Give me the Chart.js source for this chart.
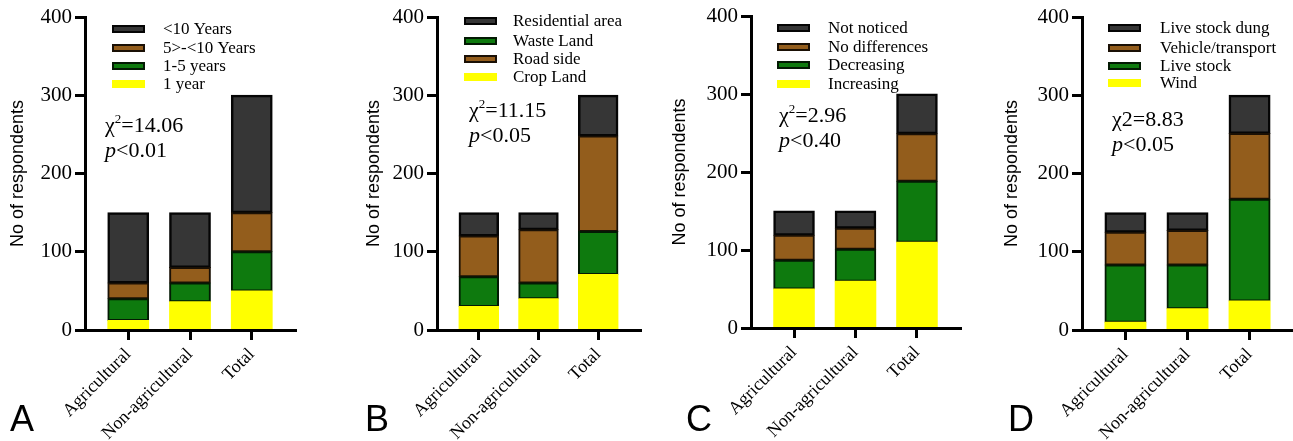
<!DOCTYPE html>
<html><head><meta charset="utf-8">
<script src="https://cdn.jsdelivr.net/npm/chart.js@4.4.0/dist/chart.umd.min.js"></script>
<style>
html,body{margin:0;padding:0;background:#fff;}
#wrap{position:relative;width:1293px;height:441px;overflow:hidden;background:#fff;}
canvas{position:absolute;top:0;}
</style></head><body>
<div id="wrap">
<canvas id="cA" width="323" height="441" style="left:0px"></canvas>
<canvas id="cB" width="323" height="441" style="left:323px"></canvas>
<canvas id="cC" width="323" height="441" style="left:646px"></canvas>
<canvas id="cD" width="324" height="441" style="left:969px"></canvas>
</div>
<script>
// ---------- DATA ----------
const categories = ['Agricultural', 'Non-agricultural', 'Total'];
const yTickValues = [0, 100, 200, 300, 400];

// Panel A (stack bottom-up)
const aSeriesNames = ['1 year', '1-5 years', '5>-<10 Years', '<10 Years'];
const aOneYear   = [12, 36, 50];
const aOneToFive = [28, 24, 50];
const aFiveToTen = [20, 20, 50];
const aOverTen   = [90, 70, 150];

// Panel B
const bSeriesNames = ['Crop Land', 'Waste Land', 'Road side', 'Residential area'];
const bCropLand    = [30, 40, 71];
const bWasteLand   = [38, 20, 55];
const bRoadSide    = [52, 68, 122];
const bResidential = [30, 22, 52];

// Panel C
const cSeriesNames = ['Increasing', 'Decreasing', 'No differences', 'Not noticed'];
const cIncreasing  = [50, 60, 110];
const cDecreasing  = [37, 41, 78];
const cNoDiff      = [32, 27, 61];
const cNotNoticed  = [31, 22, 51];

// Panel D
const dSeriesNames = ['Wind', 'Live stock', 'Vehicle/transport', 'Live stock dung'];
const dWind        = [10, 27, 37];
const dLiveStock   = [73, 56, 130];
const dVehicle     = [42, 44, 84];
const dDung        = [25, 23, 49];

// Statistics annotations
const panelLetters = ['A', 'B', 'C', 'D'];
const chiValues = ['14.06', '11.15', '2.96', '8.83'];
const pValues   = ['<0.01', '<0.05', '<0.40', '<0.05'];

// ---------- STYLE ----------
const SERIF = '"Liberation Serif", "Times New Roman", serif';
const SANS  = '"Liberation Sans", Arial, sans-serif';
const palette = [
  {bg: '#ffff00', border: '#ffff00', bw: 0},   // yellow
  {bg: '#0e7a0e', border: '#031a03', bw: 2},   // green
  {bg: '#935d1c', border: '#1a1005', bw: 2},   // brown
  {bg: '#363636', border: '#050505', bw: 2.5}  // black
];

const panels = [
  {id: 'cA', w: 323, padL: 1,  left: 85,  right: 295, top: 17, bottom: 330,
   names: aSeriesNames, series: [aOneYear, aOneToFive, aFiveToTen, aOverTen],
   colorIdx: [0, 1, 2, 3], legendOrder: [3, 2, 1, 0],
   legend: {boxX: 112, textX: 163, rows: [29, 48, 66, 84]},
   chi: {x: 105, y1: 132, y2: 157, sup: true}, letterX: 10},
  {id: 'cB', w: 323, padL: 34, left: 114, right: 317, top: 17, bottom: 330,
   names: bSeriesNames, series: [bCropLand, bWasteLand, bRoadSide, bResidential],
   colorIdx: [0, 1, 2, 3], legendOrder: [3, 1, 2, 0],
   legend: {boxX: 141, textX: 190, rows: [21, 41, 59, 77]},
   chi: {x: 146, y1: 117, y2: 142, sup: true}, letterX: 42},
  {id: 'cC', w: 323, padL: 17, left: 105, right: 314, top: 16, bottom: 328,
   names: cSeriesNames, series: [cIncreasing, cDecreasing, cNoDiff, cNotNoticed],
   colorIdx: [0, 1, 2, 3], legendOrder: [3, 2, 1, 0],
   legend: {boxX: 131, textX: 182, rows: [28, 47, 65, 84]},
   chi: {x: 133, y1: 122, y2: 147, sup: true}, letterX: 40},
  {id: 'cD', w: 324, padL: 26, left: 113, right: 324, top: 17, bottom: 330,
   names: dSeriesNames, series: [dWind, dLiveStock, dVehicle, dDung],
   colorIdx: [0, 1, 2, 3], legendOrder: [3, 2, 1, 0],
   legend: {boxX: 139, textX: 191, rows: [28, 48, 66, 83]},
   chi: {x: 143, y1: 126, y2: 151, sup: false}, letterX: 39}
];

function decoPlugin(p, k) {
  return {
    id: 'deco' + k,
    afterDraw(chart) {
      const ctx = chart.ctx;
      ctx.save();
      // legend
      ctx.textBaseline = 'middle';
      ctx.textAlign = 'left';
      ctx.font = '17px ' + SERIF;
      p.legendOrder.forEach((di, r) => {
        const ds = chart.data.datasets[di];
        const cy = p.legend.rows[r];
        const bx = p.legend.boxX, bw = 33, bh = 8;
        if (ds.borderWidth > 0) {
          ctx.fillStyle = ds.borderColor;
          ctx.fillRect(bx, cy - bh / 2, bw, bh);
          ctx.fillStyle = ds.backgroundColor;
          ctx.fillRect(bx + 2, cy - bh / 2 + 2, bw - 4, bh - 4);
        } else {
          ctx.fillStyle = ds.backgroundColor;
          ctx.fillRect(bx, cy - bh / 2, bw, bh);
        }
        ctx.fillStyle = '#000';
        ctx.fillText(ds.label, p.legend.textX, cy + 1);
      });
      // chi-square text
      ctx.textBaseline = 'alphabetic';
      ctx.fillStyle = '#000';
      const big = '22px ' + SERIF;
      let x = p.chi.x;
      ctx.font = big;
      ctx.fillText('\u03C7', x, p.chi.y1);
      x += ctx.measureText('\u03C7').width;
      if (p.chi.sup) {
        ctx.font = '13px ' + SERIF;
        ctx.fillText('2', x, p.chi.y1 - 9);
        x += ctx.measureText('2').width;
        ctx.font = big;
      } else {
        ctx.fillText('2', x, p.chi.y1);
        x += ctx.measureText('2').width;
      }
      ctx.fillText('=' + chiValues[k], x, p.chi.y1);
      x = p.chi.x;
      ctx.font = 'italic 22px ' + SERIF;
      ctx.fillText('p', x, p.chi.y2);
      x += ctx.measureText('p').width;
      ctx.font = big;
      ctx.fillText(pValues[k], x, p.chi.y2);
      // panel letter
      ctx.font = '36px ' + SANS;
      ctx.fillText(panelLetters[k], p.letterX, 431);
      ctx.restore();
    }
  };
}

panels.forEach((p, k) => {
  const datasets = p.series.map((vals, i) => {
    const c = palette[p.colorIdx[i]];
    return {
      label: p.names[i],
      data: vals,
      backgroundColor: c.bg,
      borderColor: c.border,
      borderWidth: c.bw,
      borderSkipped: false,
      inflateAmount: 0.5,
      categoryPercentage: 1.0,
      barPercentage: 0.66
    };
  });
  new Chart(document.getElementById(p.id), {
    type: 'bar',
    data: {labels: categories.map((_, i) => i), datasets},
    options: {
      responsive: false,
      animation: false,
      events: [],
      layout: {padding: {left: p.padL, top: p.top, right: p.w - p.right, bottom: 0}},
      plugins: {legend: {display: false}, tooltip: {enabled: false}},
      scales: {
        x: {
          type: 'linear',
          stacked: true,
          offset: false,
          min: -0.7, max: categories.length - 0.3,
          afterBuildTicks: s => { s.ticks = categories.map((_, i) => ({value: i})); },
          afterFit: s => { s.height = 441 - p.bottom; },
          grid: {offset: false, drawOnChartArea: false, drawTicks: true, tickLength: 10, lineWidth: 3, color: '#000'},
          border: {display: true, width: 3, color: '#000'},
          ticks: {
            autoSkip: false, minRotation: 45, maxRotation: 45, padding: 4,
            color: '#000', font: {family: SERIF, size: 18},
            callback: v => categories[v]
          }
        },
        y: {
          stacked: true,
          min: 0, max: 400,
          afterBuildTicks: s => { s.ticks = yTickValues.map(v => ({value: v})); },
          afterFit: s => { s.width = p.left - p.padL; },
          grid: {drawOnChartArea: false, drawTicks: true, tickLength: 10, lineWidth: 3, color: '#000'},
          border: {display: true, width: 3, color: '#000'},
          ticks: {color: '#000', padding: 3, font: {family: SERIF, size: 21}},
          title: {display: true, text: 'No of respondents', color: '#000',
                  font: {family: SANS, size: 18}, padding: {top: 6, bottom: 0}}
        }
      }
    },
    plugins: [decoPlugin(p, k)]
  });
});
</script>
</body></html>
